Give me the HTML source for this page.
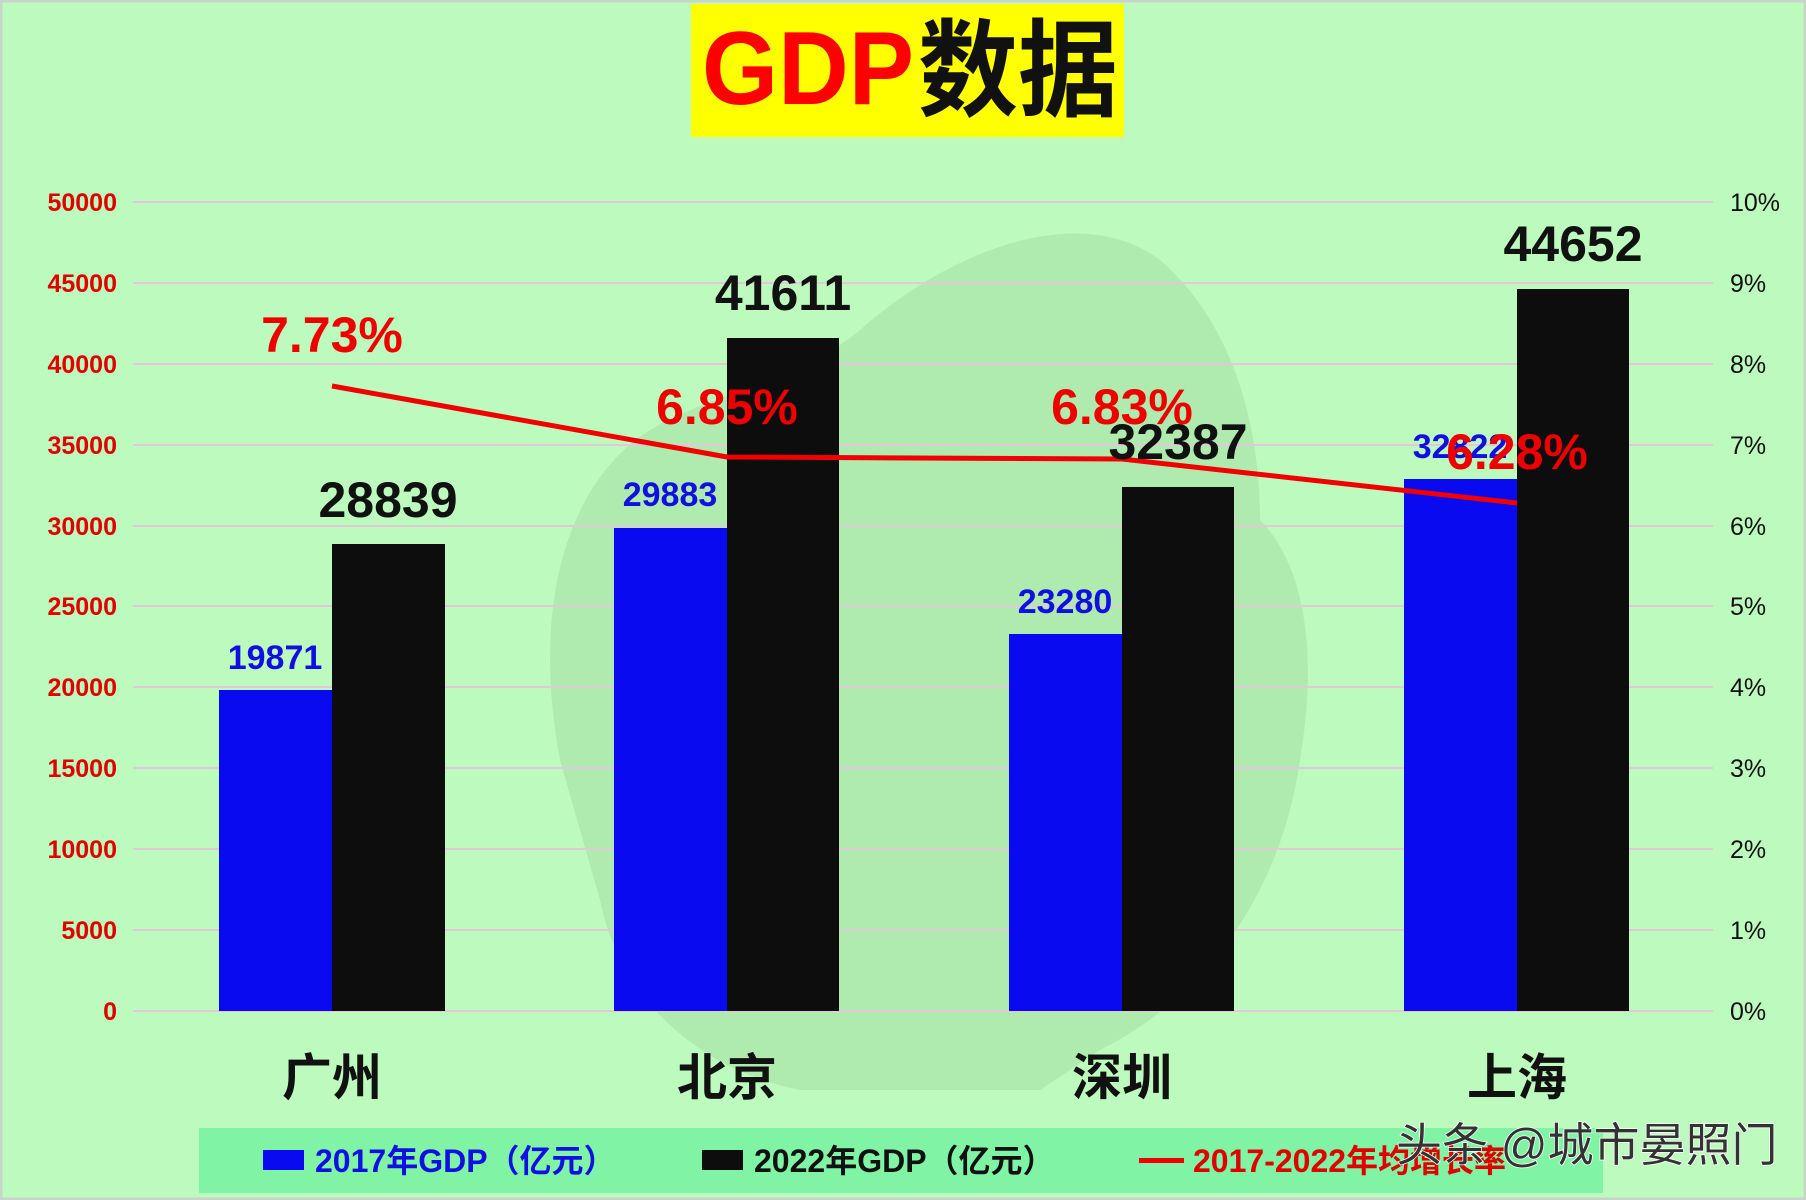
<!DOCTYPE html>
<html><head><meta charset="utf-8"><style>
html,body{margin:0;padding:0;}
body{width:1806px;height:1200px;overflow:hidden;background:#bdfabd;}
svg{display:block;}
</style></head><body>
<svg width="1806" height="1200" viewBox="0 0 1806 1200" xmlns="http://www.w3.org/2000/svg" font-family="'Liberation Sans','Noto Sans CJK SC',sans-serif">
<rect x="0" y="0" width="1806" height="1200" fill="#bdfabd"/>
<rect x="1" y="1" width="1804" height="1198" fill="none" stroke="#c8d4c8" stroke-width="3"/>
<g fill="#9fd89f" opacity="0.8">
<path d="M860 330 C950 250 1080 200 1160 260 C1230 320 1260 420 1260 520 C1300 560 1320 640 1300 760 C1280 900 1200 1000 1100 1050 L1040 1090 L800 1090 C700 1070 620 1000 600 900 L560 760 C530 600 570 480 650 430 C720 390 800 380 860 330 Z" opacity="0.55"/>
</g>
<rect x="691" y="4" width="433" height="133" fill="#ffff00"/>
<text x="702" y="104" font-size="104" font-weight="bold" fill="#ff0000" textLength="212" lengthAdjust="spacingAndGlyphs">GDP</text>
<text x="918" y="108" font-size="106" font-weight="bold" fill="#111" textLength="200" lengthAdjust="spacingAndGlyphs">数据</text>
<g stroke="#e2c8d8" stroke-width="2">
<line x1="133" y1="202" x2="1713" y2="202"/>
<line x1="133" y1="283" x2="1713" y2="283"/>
<line x1="133" y1="364" x2="1713" y2="364"/>
<line x1="133" y1="445" x2="1713" y2="445"/>
<line x1="133" y1="526" x2="1713" y2="526"/>
<line x1="133" y1="606" x2="1713" y2="606"/>
<line x1="133" y1="687" x2="1713" y2="687"/>
<line x1="133" y1="768" x2="1713" y2="768"/>
<line x1="133" y1="849" x2="1713" y2="849"/>
<line x1="133" y1="930" x2="1713" y2="930"/>
<line x1="133" y1="1011" x2="1713" y2="1011"/>
</g>
<g font-size="25" font-weight="bold" fill="#e00000" text-anchor="end">
<text x="117" y="211">50000</text><text x="117" y="292">45000</text><text x="117" y="373">40000</text>
<text x="117" y="454">35000</text><text x="117" y="535">30000</text><text x="117" y="615">25000</text>
<text x="117" y="696">20000</text><text x="117" y="777">15000</text><text x="117" y="858">10000</text>
<text x="117" y="939">5000</text><text x="117" y="1020">0</text>
</g>
<g font-size="25" fill="#111" text-anchor="start">
<text x="1730" y="211">10%</text><text x="1730" y="292">9%</text><text x="1730" y="373">8%</text>
<text x="1730" y="454">7%</text><text x="1730" y="535">6%</text><text x="1730" y="615">5%</text>
<text x="1730" y="696">4%</text><text x="1730" y="777">3%</text><text x="1730" y="858">2%</text>
<text x="1730" y="939">1%</text><text x="1730" y="1020">0%</text>
</g>
<g fill="#0a0af0">
<rect x="219" y="690" width="113" height="321"/>
<rect x="614" y="528" width="113" height="483"/>
<rect x="1009" y="634" width="113" height="377"/>
<rect x="1404" y="479" width="113" height="532"/>
</g>
<g fill="#0d0d0d">
<rect x="332" y="544" width="113" height="467"/>
<rect x="727" y="338" width="112" height="673"/>
<rect x="1122" y="487" width="112" height="524"/>
<rect x="1517" y="289" width="112" height="722"/>
</g>
<polyline points="332,386 727,457 1122,459 1517,503" fill="none" stroke="#f00000" stroke-width="5" stroke-linejoin="round"/>
<g font-size="34" font-weight="bold" fill="#1010e0" text-anchor="middle">
<text x="275" y="669">19871</text>
<text x="670" y="506">29883</text>
<text x="1065" y="613">23280</text>
<text x="1460" y="458">32822</text>
</g>
<g font-size="50" font-weight="bold" fill="#111" text-anchor="middle">
<text x="388" y="517">28839</text>
<text x="783" y="310">41611</text>
<text x="1178" y="459">32387</text>
<text x="1573" y="261">44652</text>
</g>
<g font-size="50" font-weight="bold" fill="#ee0000" text-anchor="middle">
<text x="332" y="352">7.73%</text>
<text x="727" y="424">6.85%</text>
<text x="1122" y="424">6.83%</text>
<text x="1517" y="469">6.28%</text>
</g>
<g font-size="50" font-weight="bold" fill="#111" text-anchor="middle">
<text x="332" y="1095">广州</text>
<text x="727" y="1095">北京</text>
<text x="1122" y="1095">深圳</text>
<text x="1517" y="1095">上海</text>
</g>
<rect x="199" y="1128" width="1404" height="65" fill="#80f4a4"/>
<rect x="263" y="1150" width="41" height="20" fill="#0a0af0"/>
<text x="315" y="1172" font-size="32" font-weight="bold" fill="#1010e0">2017年GDP（亿元）</text>
<rect x="702" y="1150" width="41" height="20" fill="#0d0d0d"/>
<text x="754" y="1172" font-size="32" font-weight="bold" fill="#111">2022年GDP（亿元）</text>
<rect x="1139" y="1158" width="45" height="5" fill="#f00000"/>
<text x="1193" y="1172" font-size="32" font-weight="bold" fill="#e00000">2017-2022年均增长率</text>
<text x="1396" y="1161" font-size="46" fill="#333" stroke="#fff" stroke-width="1.5" paint-order="stroke">头条 @城市晏照门</text>
</svg>
</body></html>
